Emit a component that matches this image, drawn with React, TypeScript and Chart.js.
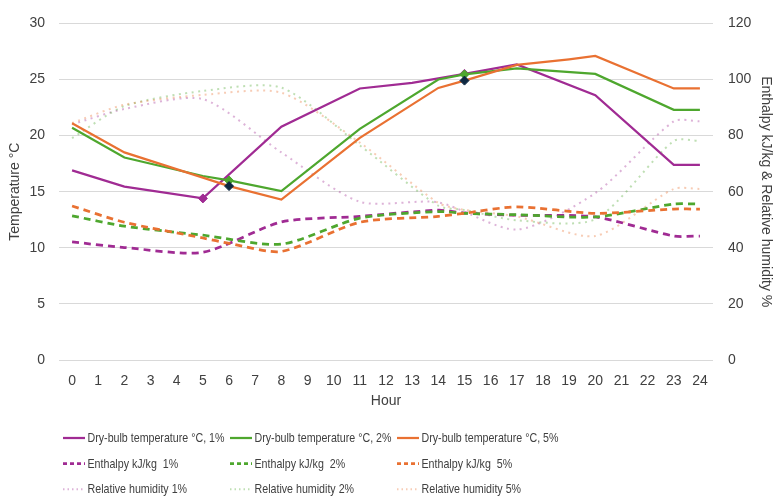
import React, { useEffect, useRef } from "react";
import { Chart, registerables } from "chart.js";

Chart.register(...registerables);

const N = null;

// Hours (category labels)
const hours = [
  "0", "1", "2", "3", "4", "5", "6", "7", "8", "9", "10", "11", "12",
  "13", "14", "15", "16", "17", "18", "19", "20", "21", "22", "23", "24",
];

// Dry-bulb temperature °C (left axis)
const dryBulb1 = [16.9, N, 15.45, N, N, 14.4, N, N, 20.8, N, N, 24.2, N, 24.7, N, 25.5, N, 26.35, N, N, 23.6, N, N, 17.4, 17.4];
const dryBulb2 = [20.7, N, 18.05, N, N, 16.4, 16.0, N, 15.05, N, N, 20.6, N, N, 25.0, 25.45, N, 26.0, N, N, 25.5, N, N, 22.3, 22.3];
const dryBulb5 = [21.1, N, 18.5, N, N, 16.25, 15.5, N, 14.3, N, N, 19.8, N, N, 24.25, 24.9, N, 26.3, N, 26.8, 27.1, N, N, 24.2, 24.2];

// Enthalpy kJ/kg (right axis)
const enthalpy1 = [42.1, N, 40.1, N, N, 38.4, N, N, 49.2, N, N, 51.2, N, N, 53.4, 52.4, N, 51.6, N, N, 51.0, N, N, 44.2, 44.2];
const enthalpy2 = [51.4, N, 47.7, N, N, 44.5, N, N, 41.3, N, N, 50.6, N, N, 52.9, 52.3, N, 51.8, N, N, 51.0, N, N, 55.6, 55.6];
const enthalpy5 = [54.9, N, 49.1, N, N, 43.5, 41.6, N, 38.7, N, N, 49.1, N, N, 51.2, 52.3, N, 54.6, N, N, 52.3, N, N, 53.8, 53.8];

// Relative humidity % (right axis)
const rh1 = [84.0, N, 89.5, N, N, 93.0, N, N, 74.0, N, N, 56.4, N, N, 56.2, N, N, 46.5, N, N, 59.5, N, N, 85.1, 85.1];
const rh2 = [79.1, N, 90.5, N, N, 95.9, N, N, 97.1, N, N, 76.5, N, N, 55.0, 53.5, N, 49.8, N, N, 50.2, N, N, 78.1, 78.1];
const rh5 = [84.5, N, 91.0, N, N, 94.5, N, N, 95.3, N, N, 77.5, N, N, 56.0, 53.5, N, 51.2, N, N, 44.2, N, N, 61.0, 61.0];

// Hours carrying a diamond marker
const marked1 = [5, 15];
const marked2 = [6, 15];
const marked5 = [6, 15];

// Tick values
const leftTicks = [0, 5, 10, 15, 20, 25, 30];
const rightTicks = [0, 20, 40, 60, 80, 100, 120];

const PURPLE = "#A02B93";
const GREEN = "#4EA72E";
const ORANGE = "#E97132";
const NAVY = "#0E2841";
const PURPLE_L = "rgba(160,43,147,0.36)";
const GREEN_L = "rgba(78,167,46,0.36)";
const ORANGE_L = "rgba(233,113,50,0.36)";
const TEXT = "#404040";
const GRID = "#d9d9d9";
const FONT = "'Liberation Sans', Arial, sans-serif";

const CHART_LEFT = 59;
const CHART_RIGHT_W = 62;
const X_AXIS_H = 54;

const LEGEND = { x0: 4, colW: 167, y0: 78, rowH: 25.6, sample: 22, gap: 2.5, font: 13, squeeze: 0.82 };

const legendPlugin = {
  id: "gridLegend",
  afterDraw(chart: any) {
    const { ctx, chartArea } = chart;
    chart.data.datasets.forEach((ds: any, i: number) => {
      const col = i % 3;
      const row = Math.floor(i / 3);
      const x = chartArea.left + LEGEND.x0 + col * LEGEND.colW;
      const y = chartArea.bottom + LEGEND.y0 + row * LEGEND.rowH;
      ctx.save();
      ctx.strokeStyle = ds.borderColor;
      ctx.lineWidth = row === 0 ? 2.25 : row === 1 ? 2.75 : 2;
      ctx.setLineDash(row === 0 ? [] : row === 1 ? [4, 3] : [1.5, 3]);
      ctx.beginPath();
      ctx.moveTo(x, y);
      ctx.lineTo(x + LEGEND.sample, y);
      ctx.stroke();
      ctx.setLineDash([]);
      ctx.fillStyle = TEXT;
      ctx.font = `${LEGEND.font}px ${FONT}`;
      ctx.textBaseline = "middle";
      ctx.textAlign = "left";
      ctx.translate(x + LEGEND.sample + LEGEND.gap, y + 0.5);
      ctx.scale(LEGEND.squeeze, 1);
      ctx.fillText(ds.label, 0, 0);
      ctx.restore();
    });
  },
};

function markerRadius(marked: number[]) {
  return (c: any) => (marked.includes(c.dataIndex) ? 4.5 : 0);
}

export default function App() {
  const ref = useRef<HTMLCanvasElement | null>(null);

  useEffect(() => {
    if (!ref.current) return;
    Chart.defaults.font.family = FONT;
    const solid = (label: string, data: any[], color: string, marked: number[], markColor: string, order: number) => ({
      label,
      data,
      yAxisID: "y",
      borderColor: color,
      backgroundColor: color,
      borderWidth: 2.25,
      tension: 0,
      spanGaps: true,
      pointStyle: "rectRot",
      pointRadius: markerRadius(marked),
      pointHoverRadius: markerRadius(marked),
      pointBackgroundColor: markColor,
      pointBorderColor: markColor,
      pointBorderWidth: 1,
      order,
    });
    const styled = (label: string, data: any[], color: string, dash: number[], width: number, order: number) => ({
      label,
      data,
      yAxisID: "y1",
      borderColor: color,
      backgroundColor: color,
      borderWidth: width,
      borderDash: dash,
      tension: 0.25,
      spanGaps: true,
      pointRadius: 0,
      pointHoverRadius: 0,
      order,
    });

    const chart = new Chart(ref.current, {
      type: "line",
      data: {
        labels: hours,
        datasets: [
          solid("Dry-bulb temperature °C, 1%", dryBulb1, PURPLE, marked1, PURPLE, 3),
          solid("Dry-bulb temperature °C, 2%", dryBulb2, GREEN, marked2, GREEN, 2),
          solid("Dry-bulb temperature °C, 5%", dryBulb5, ORANGE, marked5, NAVY, 1),
          styled("Enthalpy kJ/kg  1%", enthalpy1, PURPLE, [7, 5], 2.75, 6),
          styled("Enthalpy kJ/kg  2%", enthalpy2, GREEN, [7, 5], 2.75, 5),
          styled("Enthalpy kJ/kg  5%", enthalpy5, ORANGE, [7, 5], 2.75, 4),
          styled("Relative humidity 1%", rh1, PURPLE_L, [2, 4.5], 2, 9),
          styled("Relative humidity 2%", rh2, GREEN_L, [2, 4.5], 2, 8),
          styled("Relative humidity 5%", rh5, ORANGE_L, [2, 4.5], 2, 7),
        ],
      },
      options: {
        responsive: false,
        animation: false,
        events: [],
        layout: { padding: { top: 16, left: 0, right: 0, bottom: 500 - 360 - X_AXIS_H } },
        plugins: {
          legend: { display: false },
          tooltip: { enabled: false },
        },
        scales: {
          x: {
            type: "category",
            offset: true,
            grid: { display: false, drawTicks: false },
            border: { display: false },
            ticks: { color: TEXT, font: { size: 14 }, padding: 13, maxRotation: 0, autoSkip: false },
            title: { display: true, text: "Hour", color: TEXT, font: { size: 14 }, padding: { top: 4, bottom: 4 } },
            afterFit: (s: any) => { s.height = X_AXIS_H; },
          },
          y: {
            position: "left",
            min: 0,
            max: 30,
            afterBuildTicks: (s: any) => { s.ticks = leftTicks.map((v) => ({ value: v })); },
            grid: { color: GRID, lineWidth: 1, drawTicks: false },
            border: { display: false },
            ticks: { color: TEXT, font: { size: 14 }, padding: 14 },
            title: { display: true, text: "Temperature °C", color: TEXT, font: { size: 14 }, padding: { top: 7, bottom: 0 } },
            afterFit: (s: any) => { s.width = CHART_LEFT; },
          },
          y1: {
            position: "right",
            min: 0,
            max: 120,
            afterBuildTicks: (s: any) => { s.ticks = rightTicks.map((v) => ({ value: v })); },
            grid: { display: false, drawTicks: false },
            border: { display: false },
            ticks: { color: TEXT, font: { size: 14 }, padding: 15 },
            title: { display: true, text: "Enthalpy kJ/kg & Relative humidity %", color: TEXT, font: { size: 14 }, padding: { top: 1, bottom: 0 } },
            afterFit: (s: any) => { s.width = CHART_RIGHT_W; },
          },
        },
      },
      plugins: [legendPlugin],
    } as any);
    return () => chart.destroy();
  }, []);

  return (
    <div style={{ position: "absolute", left: 0, top: 0, width: 775, height: 500, background: "#fff" }}>
      <canvas ref={ref} width={775} height={500} style={{ display: "block" }} />
    </div>
  );
}
